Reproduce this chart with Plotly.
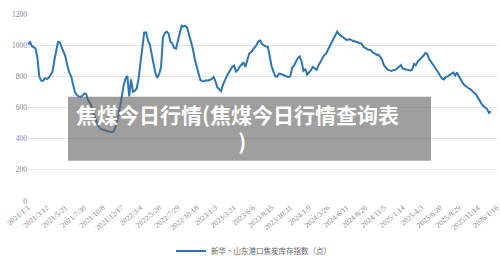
import plotly.graph_objects as go

series_name = "新华・山东港口焦炭库存指数（点）"

tick_labels = [
    "2021/1/1", "2021/3/12", "2021/5/21", "2021/7/30", "2021/10/8", "2021/12/17",
    "2022/3/4", "2022/5/20", "2022/7/29", "2022/10/18", "2023/1/3", "2023/3/21",
    "2023/6/6", "2023/8/15", "2023/10/31", "2024/1/9", "2024/3/26", "2024/6/11",
    "2024/8/20", "2024/11/5", "2025/1/14", "2025/4/3", "2025/6/20", "2025/8/29",
    "2025/11/14", "2026/1/16",
]

values = [
    1005, 1022, 995, 985, 980, 920, 800, 772, 770, 788,
    783, 790, 812, 828, 900, 975, 1020, 1017, 985, 955,
    925, 870, 825, 800, 745, 700, 681, 671, 668, 675,
    690, 688, 650, 630, 605, 564, 528, 495, 472, 461,
    457, 453, 446, 446, 444, 442, 452, 485, 535, 595,
    665, 740, 785, 803, 671, 780, 700, 708, 722, 785,
    895, 990, 1080, 1082, 1030, 1005, 930, 880, 820, 790,
    815, 860, 1050, 1077, 1087, 1075, 1022, 1010, 982, 978,
    1030, 1085, 1125, 1119, 1125, 1110, 1065, 1030, 975, 910,
    862, 830, 775, 770, 768, 775, 772, 778, 782, 795,
    770, 730, 715, 705, 745, 778, 800, 822, 842, 860,
    870, 831, 840, 863, 874, 890, 860, 910, 945, 955,
    970, 990, 1002, 1025, 1030, 1005, 995, 991, 990, 925,
    865, 830, 800, 798, 818, 815, 810, 805, 800, 795,
    800, 855, 870, 890, 917, 927, 895, 835, 845, 812,
    825, 840, 860, 850, 842, 870, 890, 915, 935, 945,
    968, 990, 1013, 1035, 1058, 1087, 1070, 1060, 1050, 1042,
    1034, 1036, 1038, 1030, 1026, 1023, 1018, 1013, 1010, 990,
    980, 975, 970, 968, 952, 948, 938, 940, 925, 905,
    870, 855, 843, 838, 835, 840, 842, 850, 860, 872,
    850, 845, 842, 840, 838, 842, 880, 872, 895, 906,
    918, 932, 950, 945, 912, 892, 876, 860, 842, 825,
    805, 785, 780, 795, 800, 810, 815, 825, 805, 824,
    800, 775, 758, 742, 731, 725, 718, 708, 700, 685,
    665, 643, 625, 610, 600, 590, 565, 575,
]

label_step = 10
tick_positions = [i * label_step for i in range(len(tick_labels))]
x_index = list(range(len(values)))

overlay_text = "<b>焦煤今日行情(焦煤今日行情查询表<br>&nbsp;&nbsp;)</b>"

fig = go.Figure()
fig.add_trace(go.Scatter(
    x=x_index, y=values, mode="lines", name=series_name,
    line=dict(color="#2e75b6", width=2),
))

serif = "Liberation Serif, DejaVu Serif, serif"
fig.update_layout(
    width=500, height=260, autosize=False,
    margin=dict(l=28, r=3, t=14, b=59, autoexpand=False),
    plot_bgcolor="white", paper_bgcolor="white",
    showlegend=True,
    legend=dict(orientation="h", x=0.305, y=0.035, xref="paper", yref="container",
                xanchor="left", yanchor="middle",
                font=dict(size=7.5, color="#666", family="Noto Sans CJK SC"),
                bgcolor="rgba(0,0,0,0)"),
    xaxis=dict(range=[-0.01, 250.3], tickmode="array", tickvals=tick_positions, ticktext=tick_labels,
               tickangle=-40, tickfont=dict(size=7.5, color="#888", family=serif),
               ticklabeloverflow="allow",
               showgrid=False, zeroline=False, showline=False, ticks="", automargin=False),
    yaxis=dict(range=[0, 1200], dtick=200, tickfont=dict(size=7.5, color="#888", family=serif),
               gridcolor="#e6e6e6", gridwidth=1, zeroline=False, showline=False, ticks="",
               automargin=False),
    shapes=[dict(type="rect", xref="paper", yref="paper",
                 x0=(68 - 28) / 469, x1=(431 - 28) / 469,
                 y0=(201.3 - 161) / 187.3, y1=(201.3 - 97) / 187.3,
                 fillcolor="rgba(100,100,100,0.62)", line=dict(width=0), layer="above")],
    annotations=[
        dict(text=overlay_text, xref="paper", yref="paper",
             x=(237 - 28) / 469, y=(201.3 - 127.5) / 187.3, showarrow=False,
             xanchor="center", yanchor="middle", align="center",
             font=dict(size=21, color="white", family="Noto Sans CJK SC")),
    ],
)

fig.write_html("out.html")
